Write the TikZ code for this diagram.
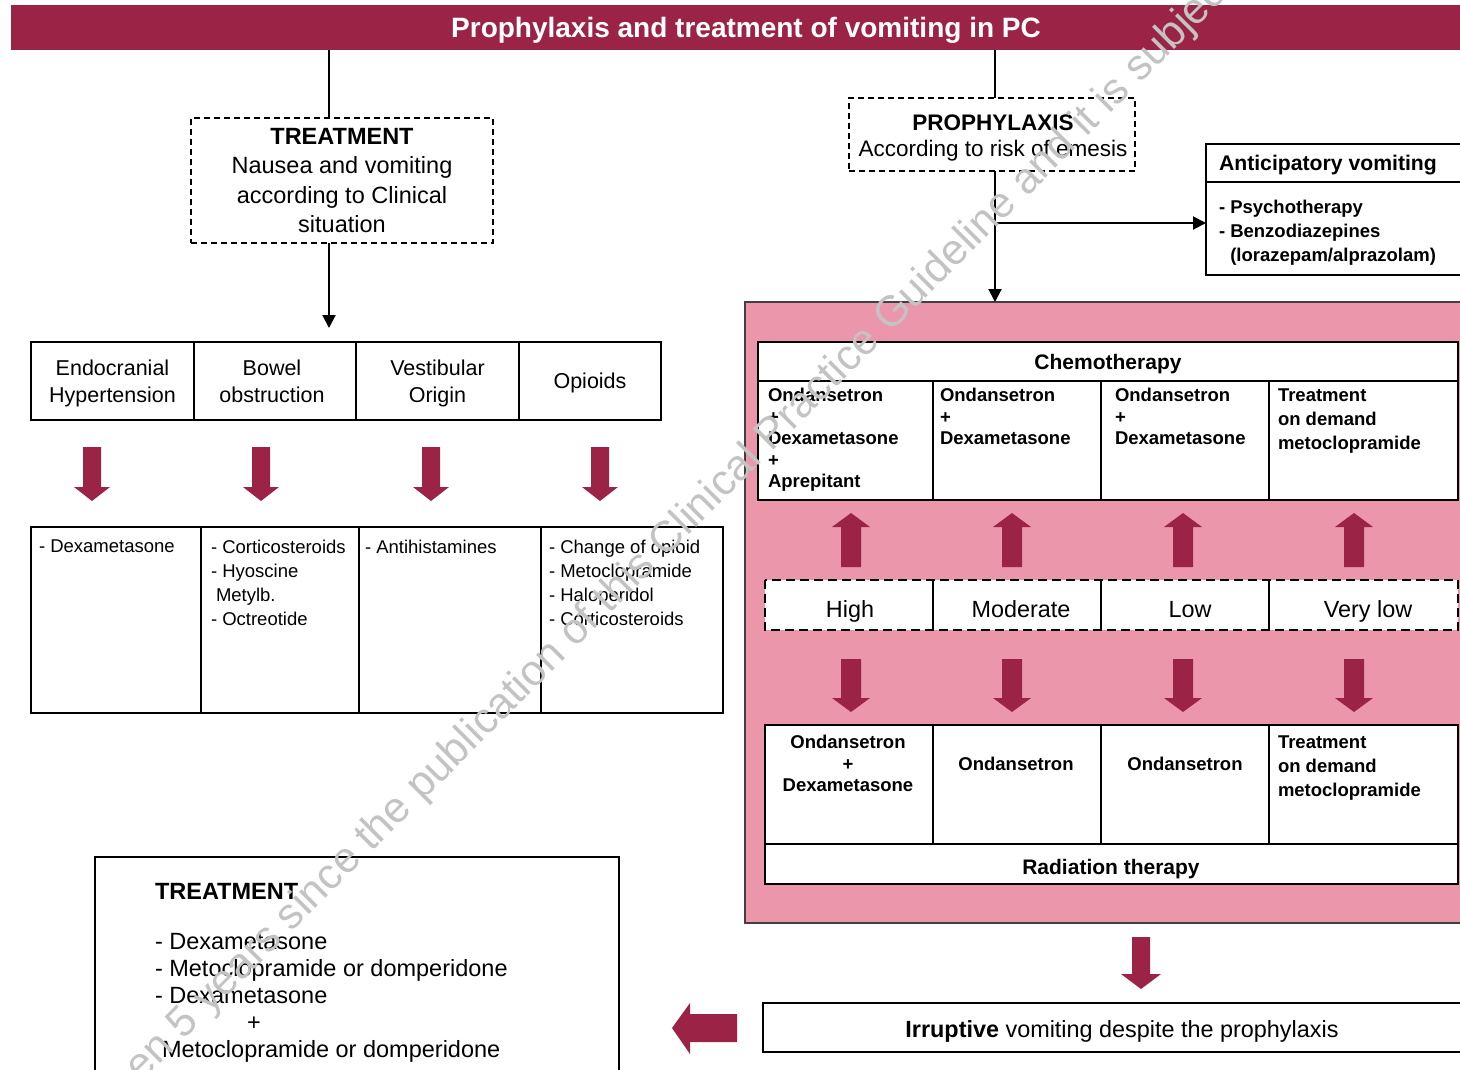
\documentclass[tikz,border=0pt]{standalone}
\usepackage{fontspec}
\setmainfont{Liberation Sans}
\usetikzlibrary{arrows.meta,calc}
\definecolor{wine}{RGB}{155,35,70}
\definecolor{rose}{RGB}{235,150,170}
\definecolor{wmark}{RGB}{195,195,195}
\newcommand\fsz[2]{\fontsize{#1}{#2}\selectfont}
% vertical block arrow: x, tail y, head-base y, tip y, shaft half width, head half width
\newcommand\vblock[6]{\fill[wine] (#1-#5,#2) -- (#1+#5,#2) -- (#1+#5,#3) -- (#1+#6,#3) -- (#1,#4) -- (#1-#6,#3) -- (#1-#5,#3) -- cycle;}
\begin{document}
\begin{tikzpicture}[x=1pt,y=-1pt,
  every node/.style={inner sep=0pt, outer sep=0pt},
  conn/.style={line width=2pt},
  tip/.style={-{Triangle[width=13pt,length=13pt]}},
  dashbox/.style={draw, line width=2pt, dash pattern=on 6pt off 4pt, anchor=north west, align=center, text depth=0pt},
  tcell/.style={draw, line width=2.5pt, anchor=north west, minimum height=78pt, align=center, text depth=0pt, font=\fsz{21.5}{27}},
  bcell/.style={draw, line width=2.5pt, anchor=north west, minimum height=186pt},
  ltext/.style={anchor=north west, align=left, font=\fsz{18.5}{24}},
  wcell/.style={draw, fill=white, line width=2.5pt, anchor=north west, text depth=0pt},
  chtext/.style={anchor=north west, align=left, font=\fsz{18.5}{21.5}\bfseries},
  rcell/.style={fill=white, anchor=north west, minimum height=50pt},
  rtext/.style={anchor=base, font=\fsz{23.4}{28}},
]
\path[use as bounding box] (0,0) rectangle (1460,1069);
\clip (0,0) rectangle (1460,1069);
\fill[white] (0,0) rectangle (1460,1069);

% title bar
\node[fill=wine, minimum width=1470pt, minimum height=45pt, anchor=north west, text depth=0pt, text=white, font=\fsz{28}{30}\bfseries] (hdr) at (11,5) {Prophylaxis and treatment of vomiting in PC};

% ---------------- treatment branch ----------------
\coordinate (lx) at (329,0);
\node[dashbox, minimum width=302pt, minimum height=125pt, font=\fsz{23.5}{29.5}] (trt) at (191,118)
  {\textbf{TREATMENT}\\Nausea and vomiting\\according to Clinical\\situation};
\draw[conn] (hdr.south -| lx) -- (trt.north -| lx);

\node[tcell, minimum width=163pt] (c1) at (31,342) {Endocranial\\Hypertension};
\node[tcell, minimum width=162pt] (c2) at (194,342) {\hspace*{-6pt}Bowel\\\hspace*{-6pt}obstruction};
\node[tcell, minimum width=163pt] (c3) at (356,342) {Vestibular\\Origin};
\node[tcell, minimum width=142pt] (c4) at (519,342) {Opioids};
\draw[conn, tip, shorten >=14pt] (trt.south -| lx) -- (c2.north -| lx);

\vblock{92}{447}{487}{501}{9}{18}
\vblock{261}{447}{487}{501}{9}{18}
\vblock{431}{447}{487}{501}{9}{18}
\vblock{600}{447}{487}{501}{9}{18}

\node[bcell, minimum width=170pt] (d1) at (31,527) {};
\node[bcell, minimum width=158pt] (d2) at (201,527) {};
\node[bcell, minimum width=182pt] (d3) at (359,527) {};
\node[bcell, minimum width=182pt] (d4) at (541,527) {};
\node[ltext] (d1t) at (39,540) {- Dexametasone};
\node[ltext] (d2t) at (211,540) {- Corticosteroids\\- Hyoscine\\\hspace*{5pt}Metylb.\\- Octreotide};
\node[ltext] (d3t) at (365,540) {- Antihistamines};
\node[ltext] (d4t) at (549,540) {- Change of opioid\\- Metoclopramide\\- Haloperidol\\- Corticosteroids};

% treatment of irruptive vomiting
\node[draw, line width=2pt, anchor=north west, minimum width=524pt, minimum height=260pt] (tb) at (95,857) {};
\node[anchor=north west, font=\fsz{23.5}{27}\bfseries] (tbh) at (155,883) {TREATMENT};
\node[anchor=north west, align=left, font=\fsz{23.5}{27}] (tbl) at (155,933)
  {- Dexametasone\\- Metoclopramide or domperidone\\- Dexametasone\\\hspace*{92pt}+\\\hspace*{7pt}Metoclopramide or domperidone};

% ---------------- prophylaxis branch ----------------
\coordinate (rx) at (995,0);
\node[dashbox, minimum width=286pt, minimum height=73pt] (pro) at (849,98) {};
\node[anchor=north, align=center, font=\fsz{22.5}{26}] (prot) at (993,114.5)
  {\textbf{PROPHYLAXIS}\\According to risk of emesis};
\draw[conn] (hdr.south -| rx) -- (pro.north -| rx);

% anticipatory vomiting
\node[wcell, minimum width=274pt, minimum height=38pt] (anth) at (1206,144) {};
\node[wcell, minimum width=274pt, minimum height=93pt] (ant) at (1206,182) {};
\node[anchor=base west, font=\fsz{21.2}{25}\bfseries] (antt) at (1219,170.5) {Anticipatory vomiting};
\node[anchor=north west, align=left, font=\fsz{18.5}{24}\bfseries] (antl) at (1219,200)
  {- Psychotherapy\\- Benzodiazepines\\\hphantom{- }(lorazepam/alprazolam)};

% risk-based prophylaxis panel
\node[fill=rose, draw=black!75, line width=1.5pt, anchor=north west, minimum width=740pt, minimum height=621pt] (pink) at (745,302) {};
\draw[conn, tip] (pro.south -| rx) -- (pink.north -| rx);
\coordinate (br) at (995,223);
\draw[conn, tip] (br) -- (br -| ant.west);

% chemotherapy
\node[wcell, minimum width=700pt, minimum height=39pt, font=\fsz{21}{25}\bfseries] (ch) at (758,342) {Chemotherapy};
\node[wcell, minimum width=175pt, minimum height=119pt] (k1) at (758,381) {};
\node[wcell, minimum width=168pt, minimum height=119pt] (k2) at (933,381) {};
\node[wcell, minimum width=168pt, minimum height=119pt] (k3) at (1101,381) {};
\node[wcell, minimum width=189pt, minimum height=119pt] (k4) at (1269,381) {};
\node[chtext] (k1t) at (768,388.5) {Ondansetron\\+\\Dexametasone\\+\\Aprepitant};
\node[chtext] (k2t) at (940,388.5) {Ondansetron\\+\\Dexametasone};
\node[chtext] (k3t) at (1115,388.5) {Ondansetron\\+\\Dexametasone};
\node[chtext, font=\fsz{18.5}{24}\bfseries] (k4t) at (1278,388.5) {Treatment\\on demand\\metoclopramide};

\vblock{851}{567}{527}{513}{10}{19}
\vblock{1012}{567}{527}{513}{10}{19}
\vblock{1183}{567}{527}{513}{10}{19}
\vblock{1354}{567}{527}{513}{10}{19}

% risk levels
\node[rcell, minimum width=168pt] (r1) at (765,580) {};
\node[rcell, minimum width=168pt] (r2) at (933,580) {};
\node[rcell, minimum width=168pt] (r3) at (1101,580) {};
\node[rcell, minimum width=189pt] (r4) at (1269,580) {};
\node[rtext] (r1t) at (850,617.5) {High};
\node[rtext] (r2t) at (1021,617.5) {Moderate};
\node[rtext] (r3t) at (1190,617.5) {Low};
\node[rtext] (r4t) at (1368,617.5) {Very low};
\draw[line width=2.5pt, dash pattern=on 9pt off 5pt] (r1.north west) rectangle (r4.south east);
\draw[line width=2pt] (r1.north east) -- (r1.south east);
\draw[line width=2pt] (r2.north east) -- (r2.south east);
\draw[line width=2pt] (r3.north east) -- (r3.south east);

\vblock{851}{659}{698}{712}{10}{19}
\vblock{1012}{659}{698}{712}{10}{19}
\vblock{1183}{659}{698}{712}{10}{19}
\vblock{1354}{659}{698}{712}{10}{19}

% radiation therapy
\node[wcell, minimum width=168pt, minimum height=119pt] (q1) at (765,725) {};
\node[wcell, minimum width=168pt, minimum height=119pt] (q2) at (933,725) {};
\node[wcell, minimum width=168pt, minimum height=119pt] (q3) at (1101,725) {};
\node[wcell, minimum width=189pt, minimum height=119pt] (q4) at (1269,725) {};
\node[wcell, minimum width=693pt, minimum height=40pt] (rad) at (765,844) {};
\node[anchor=base, font=\fsz{21}{25}\bfseries] (radt) at (1111,874.5) {Radiation therapy};
\node[anchor=north, align=center, font=\fsz{18.5}{21.5}\bfseries] (q1t) at (848,735.5) {Ondansetron\\+\\Dexametasone};
\node[anchor=base, font=\fsz{18.5}{21.5}\bfseries] (q2t) at (1016,770) {Ondansetron};
\node[anchor=base, font=\fsz{18.5}{21.5}\bfseries] (q3t) at (1185,770) {Ondansetron};
\node[chtext, font=\fsz{18.5}{24}\bfseries] (q4t) at (1278,735.5) {Treatment\\on demand\\metoclopramide};

% irruptive vomiting
\vblock{1141}{937}{974}{989}{9}{20}
\node[draw, line width=2.5pt, anchor=north west, minimum width=717pt, minimum height=49pt] (irr) at (763,1003) {};
\node[anchor=base, font=\fsz{23.4}{28}] (irrt) at (1122,1037.5) {\textbf{Irruptive} vomiting despite the prophylaxis};
\fill[wine] (737,1014) -- (690,1014) -- (690,1003) -- (672,1028) -- (690,1054) -- (690,1042) -- (737,1042) -- cycle;

% notice printed across the page
\node[rotate=45, anchor=base west, text=wmark, font=\fsz{43}{43}] (wm) at (772,452)
  {\llap{It has been 5 years since the publication of this Clinical }Practice Guideline and it is subject to updating.};
\end{tikzpicture}
\end{document}
